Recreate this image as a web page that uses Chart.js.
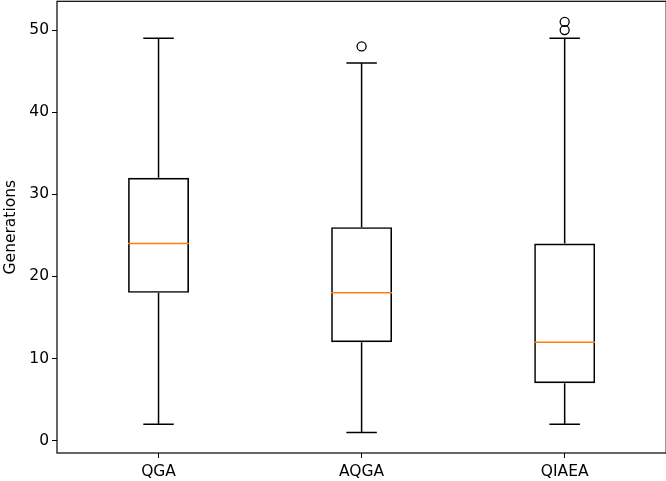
<!DOCTYPE html>
<html>
<head>
<meta charset="utf-8">
<script src="https://cdn.jsdelivr.net/npm/chart.js@4/dist/chart.umd.min.js"></script>
<style>
  html, body { margin: 0; padding: 0; background: #fff; overflow: hidden; }
  #frame { position: relative; width: 666px; height: 481px; overflow: hidden; }
  #wrap { position: absolute; left: 0; top: -11px; width: 672px; height: 492px; }
</style>
</head>
<body>
<div id="frame"><div id="wrap"><canvas id="boxChart"></canvas></div></div>
<script>
// Dados
const categories = ['QGA', 'AQGA', 'QIAEA'];
const q1 = [18, 12, 7];
const q3 = [32, 26, 24];
const medians = [24, 18, 12];
const whiskerLow = [2, 1, 2];
const whiskerHigh = [49, 46, 49];
const outliers = [[], [48], [50, 51]];
const yTicks = [0, 10, 20, 30, 40, 50];

const FONT = 'DejaVu Sans';

// Bigodes, tampas e mediana desenhados pelas escalas do próprio gráfico
const boxExtras = {
  id: 'boxExtras',
  afterDatasetsDraw(chart) {
    const { ctx, chartArea, scales: { x, y } } = chart;
    const meta = chart.getDatasetMeta(0);
    ctx.save();
    ctx.lineCap = 'butt';
    categories.forEach((cat, i) => {
      const cx = x.getPixelForValue(i);
      const half = meta.data[i].width / 2;
      const capHalf = half / 2;
      ctx.strokeStyle = '#000';
      ctx.lineWidth = 1.5;
      ctx.beginPath();
      ctx.moveTo(cx, y.getPixelForValue(q1[i]));
      ctx.lineTo(cx, y.getPixelForValue(whiskerLow[i]));
      ctx.moveTo(cx, y.getPixelForValue(q3[i]));
      ctx.lineTo(cx, y.getPixelForValue(whiskerHigh[i]));
      ctx.moveTo(cx - capHalf, y.getPixelForValue(whiskerLow[i]));
      ctx.lineTo(cx + capHalf, y.getPixelForValue(whiskerLow[i]));
      ctx.moveTo(cx - capHalf, y.getPixelForValue(whiskerHigh[i]));
      ctx.lineTo(cx + capHalf, y.getPixelForValue(whiskerHigh[i]));
      ctx.stroke();
      ctx.strokeStyle = '#ff7f0e';
      ctx.beginPath();
      ctx.moveTo(cx - half, y.getPixelForValue(medians[i]));
      ctx.lineTo(cx + half, y.getPixelForValue(medians[i]));
      ctx.stroke();
    });
    // moldura do eixo
    ctx.strokeStyle = '#000';
    ctx.lineWidth = 1.2;
    ctx.strokeRect(chartArea.left, chartArea.top,
      chartArea.right - chartArea.left, chartArea.bottom - chartArea.top);
    ctx.restore();
  }
};

const outlierPoints = [];
outliers.forEach((vals, i) => vals.forEach(v => outlierPoints.push({ x: categories[i], y: v })));

new Chart(document.getElementById('boxChart'), {
  data: {
    labels: categories,
    datasets: [
      {
        type: 'bar',
        data: categories.map((_, i) => [q1[i], q3[i]]),
        backgroundColor: 'rgba(0,0,0,0)',
        borderColor: '#000',
        borderWidth: 1.6,
        borderSkipped: false,
        barPercentage: 0.3,
        categoryPercentage: 1
      },
      {
        type: 'line',
        data: outlierPoints,
        showLine: false,
        pointStyle: 'circle',
        pointRadius: 4.5,
        pointBorderWidth: 1.3,
        pointBorderColor: '#000',
        pointBackgroundColor: 'rgba(0,0,0,0)'
      }
    ]
  },
  options: {
    responsive: true,
    maintainAspectRatio: false,
    animation: false,
    layout: { padding: 0 },
    plugins: { legend: { display: false }, tooltip: { enabled: false } },
    scales: {
      x: {
        type: 'category',
        offset: true,
        grid: { display: true, drawOnChartArea: false, tickLength: 5, color: '#000', offset: false },
        border: { display: false },
        ticks: { color: '#000', font: { family: FONT, size: 15.5 }, padding: 5 },
        afterBuildTicks(scale) { scale.ticks = categories.map((_, i) => ({ value: i })); },
        afterFit(scale) { scale.height = 28; }
      },
      y: {
        min: -1.5,
        max: 53.5,
        grid: { display: true, drawOnChartArea: false, tickLength: 5, color: '#000' },
        border: { display: false },
        ticks: { color: '#000', font: { family: FONT, size: 15.5 }, padding: 3 },
        afterBuildTicks(scale) { scale.ticks = yTicks.map(v => ({ value: v })); },
        title: { display: true, text: 'Generations', color: '#000', font: { family: FONT, size: 15.5 }, padding: { top: 2, bottom: 2 } },
        afterFit(scale) { scale.width = 57; }
      }
    }
  },
  plugins: [boxExtras]
});
</script>
</body>
</html>
